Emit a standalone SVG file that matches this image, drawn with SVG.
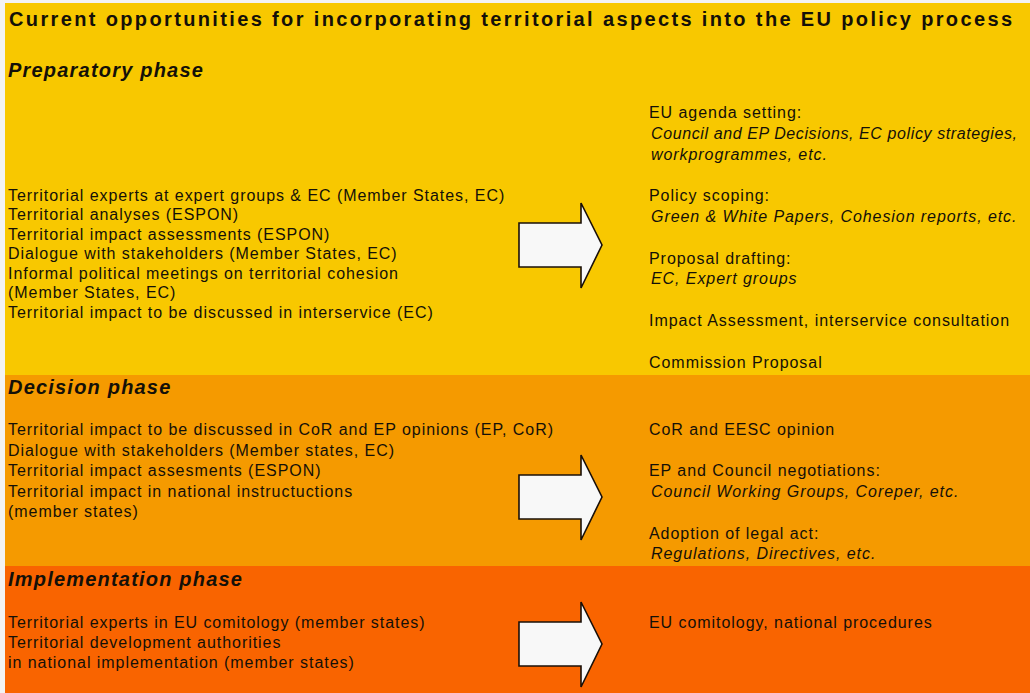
<svg xmlns="http://www.w3.org/2000/svg" width="1030" height="693" viewBox="0 0 1030 693">
  <style>
    text { font-family: "Liberation Sans", Arial, sans-serif; fill: #141008; }
    .title { font-size: 20px; font-weight: bold; }
    .phase { font-size: 20px; font-weight: bold; font-style: italic; letter-spacing: 1.2px; }
    .body { font-size: 16px; letter-spacing: 0.95px; }
    .it { font-size: 16px; font-style: italic; letter-spacing: 0.93px; }
    .fit { letter-spacing: 0; }
    .arrow { fill: #f8f8f8; stroke: #1a1008; stroke-width: 1.6; stroke-linejoin: miter; }
  </style>
  <defs>
    <!-- block arrow shape, drawn at origin (body left edge, arrow centre line) -->
    <path id="blockArrow" d="M0,-22 L62,-22 L62,-42 L83,0 L62,43 L62,22 L0,22 Z"/>
  </defs>

  <!-- page background -->
  <rect x="0" y="0" width="1030" height="693" fill="#f3f3f3"/>

  <!-- phase bands -->
  <g id="band-preparatory">
    <rect x="5" y="3" width="1025" height="372" fill="#f8c800"/>
  </g>
  <g id="band-decision">
    <rect x="5" y="375" width="1025" height="191" fill="#f59a00"/>
  </g>
  <g id="band-implementation">
    <rect x="5" y="566" width="1025" height="127" fill="#f96400"/>
  </g>

  <g id="title">
    <text class="title" x="9" y="26" textLength="1003" lengthAdjust="spacing">Current opportunities for incorporating territorial aspects into the EU policy process</text>
  </g>

  <!-- Preparatory phase -->
  <g id="heading-preparatory">
    <text class="phase" x="8" y="77">Preparatory phase</text>
  </g>
  <g id="prep-actions">
    <text class="body" x="8" y="201">Territorial experts at expert groups &amp; EC (Member States, EC)</text>
    <text class="body" x="8" y="220">Territorial analyses (ESPON)</text>
    <text class="body" x="8" y="240">Territorial impact assessments (ESPON)</text>
    <text class="body" x="8" y="259">Dialogue with stakeholders (Member States, EC)</text>
    <text class="body" x="8" y="279">Informal political meetings on territorial cohesion</text>
    <text class="body" x="8" y="298">(Member States, EC)</text>
    <text class="body" x="8" y="318">Territorial impact to be discussed in interservice (EC)</text>
  </g>
  <g id="prep-process">
    <text class="body" x="649" y="118">EU agenda setting:</text>
    <text class="it fit" x="651" y="139" textLength="366" lengthAdjust="spacing">Council and EP Decisions, EC policy strategies,</text>
    <text class="it" x="651" y="160">workprogrammes, etc.</text>
    <text class="body" x="649" y="201">Policy scoping:</text>
    <text class="it" x="651" y="222">Green &amp; White Papers, Cohesion reports, etc.</text>
    <text class="body" x="649" y="264">Proposal drafting:</text>
    <text class="it" x="651" y="284">EC, Expert groups</text>
    <text class="body" x="649" y="326">Impact Assessment, interservice consultation</text>
    <text class="body" x="649" y="368">Commission Proposal</text>
  </g>

  <!-- Decision phase -->
  <g id="heading-decision">
    <text class="phase" x="8" y="394">Decision phase</text>
  </g>
  <g id="decision-actions">
    <text class="body" x="8" y="435">Territorial impact to be discussed in CoR and EP opinions (EP, CoR)</text>
    <text class="body" x="8" y="456">Dialogue with stakeholders (Member states, EC)</text>
    <text class="body" x="8" y="476">Territorial impact assesments (ESPON)</text>
    <text class="body" x="8" y="497">Territorial impact in national instructuctions</text>
    <text class="body" x="8" y="517">(member states)</text>
  </g>
  <g id="decision-process">
    <text class="body" x="649" y="435">CoR and EESC opinion</text>
    <text class="body" x="649" y="476">EP and Council negotiations:</text>
    <text class="it" x="651" y="497">Council Working Groups, Coreper, etc.</text>
    <text class="body" x="649" y="539">Adoption of legal act:</text>
    <text class="it" x="651" y="559">Regulations, Directives, etc.</text>
  </g>

  <!-- Implementation phase -->
  <g id="heading-implementation">
    <text class="phase" x="8" y="586">Implementation phase</text>
  </g>
  <g id="implementation-actions">
    <text class="body" x="8" y="628">Territorial experts in EU comitology (member states)</text>
    <text class="body" x="8" y="648">Territorial development authorities</text>
    <text class="body" x="8" y="668">in national implementation (member states)</text>
  </g>
  <g id="implementation-process">
    <text class="body" x="649" y="628">EU comitology, national procedures</text>
  </g>

  <!-- connectors: block arrows from actions to process steps -->
  <g id="connectors">
    <use href="#blockArrow" class="arrow" transform="translate(519,245)"/>
    <use href="#blockArrow" class="arrow" transform="translate(519,497)"/>
    <use href="#blockArrow" class="arrow" transform="translate(519,644)"/>
  </g>
</svg>
